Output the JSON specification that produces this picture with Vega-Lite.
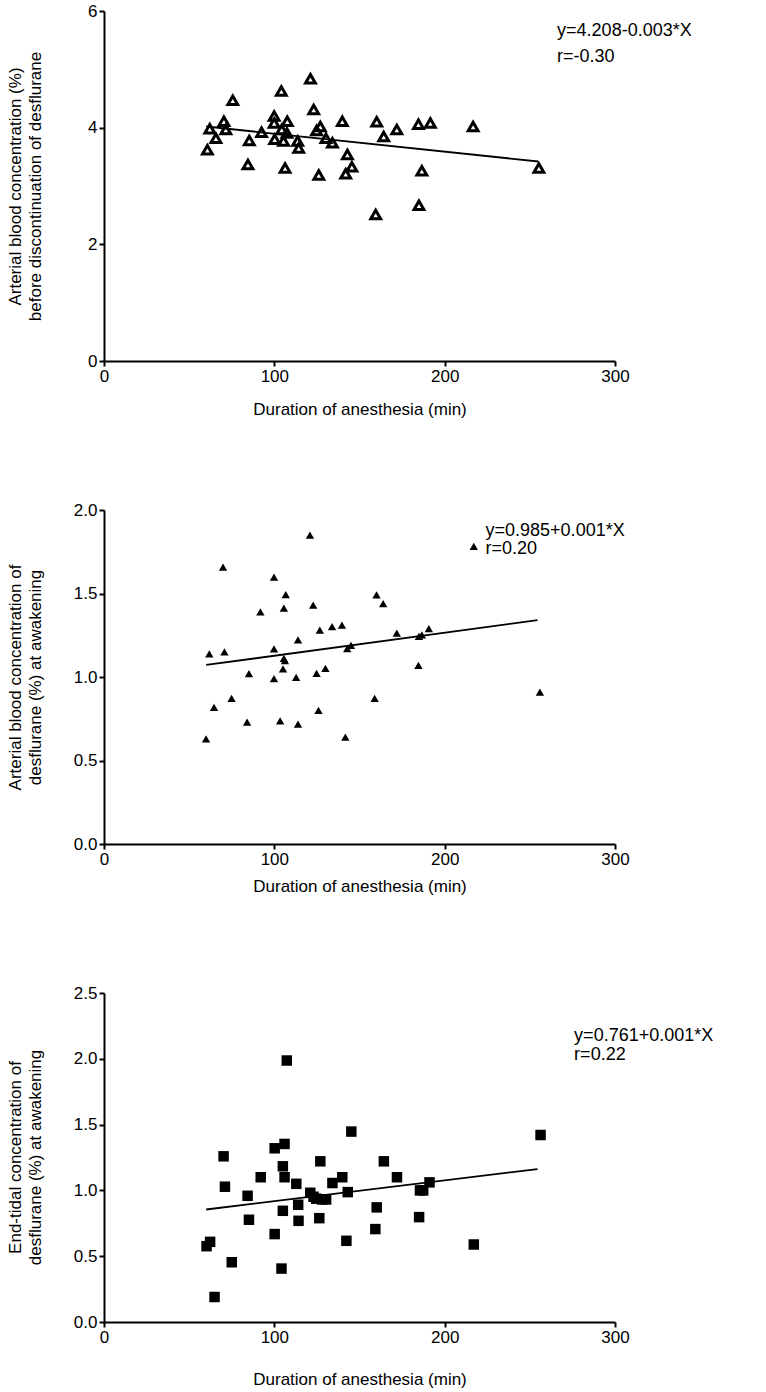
{
  "$schema": "https://vega.github.io/schema/vega-lite/v6.json",
  "background": "white",
  "padding": {"left": 6, "top": 2, "right": 5, "bottom": 2},
  "spacing": 149,
  "bounds": "flush",
  "config": {
    "font": "Liberation Sans",
    "view": {"stroke": null},
    "axis": {
      "domainColor": "black", "domainWidth": 2,
      "tickColor": "black", "tickWidth": 2, "tickSize": 5,
      "labelColor": "black", "labelFontSize": 17, "labelFont": "Liberation Sans", "labelPadding": 2,
      "titleColor": "black", "titleFontSize": 17, "titleFont": "Liberation Sans", "titleFontWeight": "normal",
      "grid": false, "labelFlush": false
    },
    "text": {"font": "Liberation Sans", "fontSize": 18, "color": "black", "align": "left", "baseline": "middle"}
  },
  "datasets": {
    "p1": [
      {"x":60.7,"y":3.62},{"x":62.1,"y":3.98},{"x":65.7,"y":3.82},{"x":70.4,"y":4.11},{"x":71.5,"y":3.97},
      {"x":75.6,"y":4.47},{"x":84.5,"y":3.37},{"x":85.3,"y":3.78},{"x":92.5,"y":3.92},{"x":99.9,"y":4.2},
      {"x":99.9,"y":4.08},{"x":100.2,"y":3.8},{"x":104.1,"y":4.63},{"x":104.3,"y":3.97},{"x":105.4,"y":3.77},
      {"x":106.3,"y":3.31},{"x":107.6,"y":4.11},{"x":107.4,"y":3.91},{"x":113.7,"y":3.77},{"x":114.3,"y":3.65},
      {"x":121.2,"y":4.84},{"x":123.1,"y":4.31},{"x":124.8,"y":3.95},{"x":126.1,"y":3.19},{"x":127,"y":4.02},
      {"x":130.3,"y":3.82},{"x":134.1,"y":3.74},{"x":139.9,"y":4.11},{"x":142.9,"y":3.54},{"x":141.9,"y":3.21},
      {"x":145.5,"y":3.33},{"x":159.5,"y":2.51},{"x":160.1,"y":4.1},{"x":164.2,"y":3.85},{"x":171.9,"y":3.97},
      {"x":184.6,"y":4.06},{"x":184.9,"y":2.67},{"x":186.6,"y":3.26},{"x":191.6,"y":4.08},{"x":216.7,"y":4.02},
      {"x":255.3,"y":3.31}
    ],
    "p2": [
      {"x":59.9,"y":0.63},{"x":61.8,"y":1.138},{"x":64.6,"y":0.818},{"x":69.9,"y":1.658},{"x":70.7,"y":1.15},
      {"x":74.9,"y":0.872},{"x":84.0,"y":0.73},{"x":85.1,"y":1.02},{"x":91.8,"y":1.39},{"x":99.8,"y":1.598},
      {"x":99.8,"y":1.168},{"x":99.8,"y":0.99},{"x":103.4,"y":0.738},{"x":105.1,"y":1.048},{"x":105.6,"y":1.112},
      {"x":105.6,"y":1.412},{"x":106.7,"y":1.494},{"x":106.2,"y":1.098},{"x":112.8,"y":0.998},{"x":113.9,"y":1.222},
      {"x":113.9,"y":0.718},{"x":120.9,"y":1.85},{"x":122.8,"y":1.43},{"x":124.8,"y":1.022},{"x":125.9,"y":0.8},
      {"x":126.7,"y":1.28},{"x":130.0,"y":1.052},{"x":133.9,"y":1.302},{"x":139.7,"y":1.31},{"x":141.7,"y":0.64},
      {"x":142.8,"y":1.17},{"x":145.0,"y":1.19},{"x":158.9,"y":0.872},{"x":160.0,"y":1.492},{"x":163.9,"y":1.44},
      {"x":171.9,"y":1.262},{"x":184.6,"y":1.07},{"x":184.9,"y":1.244},{"x":186.6,"y":1.252},{"x":190.7,"y":1.29},
      {"x":217.1,"y":1.782},{"x":255.9,"y":0.91}
    ],
    "p3": [
      {"x":60.2,"y":0.576},{"x":62.3,"y":0.609},{"x":64.9,"y":0.19},{"x":70.2,"y":1.259},{"x":71.0,"y":1.028},
      {"x":75.0,"y":0.454},{"x":84.3,"y":0.959},{"x":85.1,"y":0.777},{"x":92.0,"y":1.1},{"x":100.2,"y":1.32},
      {"x":100.2,"y":0.668},{"x":104.2,"y":0.406},{"x":105.0,"y":0.845},{"x":105.0,"y":1.183},{"x":106.0,"y":1.353},
      {"x":106.0,"y":1.1},{"x":107.3,"y":1.987},{"x":112.9,"y":1.05},{"x":114.0,"y":0.891},{"x":114.2,"y":0.769},
      {"x":121.1,"y":0.982},{"x":123.0,"y":0.952},{"x":124.6,"y":0.937},{"x":126.4,"y":0.789},{"x":127.0,"y":1.221},
      {"x":128.0,"y":0.931},{"x":130.4,"y":0.931},{"x":134.1,"y":1.056},{"x":139.9,"y":1.1},{"x":142.3,"y":0.617},
      {"x":143.1,"y":0.987},{"x":145.2,"y":1.447},{"x":159.3,"y":0.706},{"x":160.1,"y":0.871},{"x":164.3,"y":1.221},
      {"x":172.0,"y":1.1},{"x":185.0,"y":0.797},{"x":185.5,"y":1.0},{"x":187.4,"y":1.0},{"x":191.1,"y":1.061},
      {"x":217.1,"y":0.589},{"x":256.3,"y":1.421}
    ],
    "l1": [{"x":60,"y":4.02},{"x":255,"y":3.42}],
    "l2": [{"x":60,"y":1.072},{"x":254.5,"y":1.34}],
    "l3": [{"x":60,"y":0.855},{"x":254.5,"y":1.162}],
    "t1": [{"x":266,"y":5.65,"label":"y=4.208-0.003*X"},{"x":266,"y":5.22,"label":"r=-0.30"}],
    "t2": [{"x":224,"y":1.875,"label":"y=0.985+0.001*X"},{"x":224,"y":1.764,"label":"r=0.20"}],
    "t3": [{"x":276,"y":2.17,"label":"y=0.761+0.001*X"},{"x":276,"y":2.03,"label":"r=0.22"}]
  },
  "vconcat": [
    {
      "width": 511, "height": 350,
      "encoding": {
        "x": {"field": "x", "type": "quantitative", "scale": {"domain": [0, 300], "nice": false},
              "axis": {"values": [0, 100, 200, 300], "title": "Duration of anesthesia (min)", "titleY": 48, "titleBaseline": "middle"}},
        "y": {"field": "y", "type": "quantitative", "scale": {"domain": [0, 6], "nice": false},
              "axis": {"values": [0, 2, 4, 6], "format": "d", "title": ["Arterial blood concentration (%)", "before discontinuation of desflurane"],
                       "titleX": -89, "titleY": 175, "titleBaseline": "middle", "titleAlign": "center", "titleLineHeight": 20}}
      },
      "layer": [
        {"data": {"name": "p1"}, "mark": {"type": "point", "shape": "triangle-up", "filled": false, "stroke": "black", "strokeWidth": 3, "size": 95, "opacity": 1}},
        {"data": {"name": "l1"}, "mark": {"type": "line", "color": "black", "strokeWidth": 1.8}},
        {"data": {"name": "t1"}, "mark": {"type": "text"}, "encoding": {"text": {"field": "label"}}}
      ]
    },
    {
      "width": 511, "height": 334,
      "encoding": {
        "x": {"field": "x", "type": "quantitative", "scale": {"domain": [0, 300], "nice": false},
              "axis": {"values": [0, 100, 200, 300], "title": "Duration of anesthesia (min)", "titleY": 42, "titleBaseline": "middle"}},
        "y": {"field": "y", "type": "quantitative", "scale": {"domain": [0, 2], "nice": false},
              "axis": {"values": [0, 0.5, 1, 1.5, 2], "format": ".1f", "title": ["Arterial blood concentration of", "desflurane (%) at awakening"],
                       "titleX": -89, "titleY": 167, "titleBaseline": "middle", "titleAlign": "center", "titleLineHeight": 20}}
      },
      "layer": [
        {"data": {"name": "p2"}, "mark": {"type": "point", "shape": "triangle-up", "filled": true, "color": "black", "size": 70, "opacity": 1}},
        {"data": {"name": "l2"}, "mark": {"type": "line", "color": "black", "strokeWidth": 1.8}},
        {"data": {"name": "t2"}, "mark": {"type": "text"}, "encoding": {"text": {"field": "label"}}}
      ]
    },
    {
      "width": 511, "height": 329,
      "encoding": {
        "x": {"field": "x", "type": "quantitative", "scale": {"domain": [0, 300], "nice": false},
              "axis": {"values": [0, 100, 200, 300], "title": "Duration of anesthesia (min)", "titleY": 57, "titleBaseline": "middle"}},
        "y": {"field": "y", "type": "quantitative", "scale": {"domain": [0, 2.5], "nice": false},
              "axis": {"values": [0, 0.5, 1, 1.5, 2, 2.5], "format": ".1f", "title": ["End-tidal concentration of", "desflurane (%) at awakening"],
                       "titleX": -89, "titleY": 164, "titleBaseline": "middle", "titleAlign": "center", "titleLineHeight": 20}}
      },
      "layer": [
        {"data": {"name": "p3"}, "mark": {"type": "square", "filled": true, "color": "black", "size": 110, "opacity": 1}},
        {"data": {"name": "l3"}, "mark": {"type": "line", "color": "black", "strokeWidth": 1.8}},
        {"data": {"name": "t3"}, "mark": {"type": "text"}, "encoding": {"text": {"field": "label"}}}
      ]
    }
  ]
}
